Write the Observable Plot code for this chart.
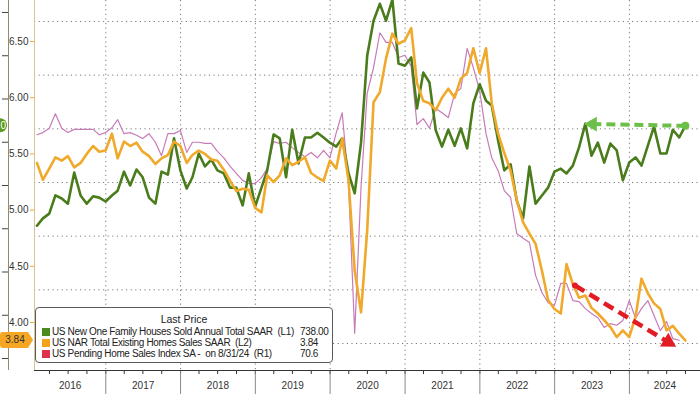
<!DOCTYPE html>
<html>
<head>
<meta charset="utf-8">
<script src="https://cdn.jsdelivr.net/npm/d3@7"></script>
<script src="https://cdn.jsdelivr.net/npm/@observablehq/plot@0.6"></script>
<style>
  body { margin: 0; background: #fff; }
  #chart { position: relative; width: 700px; height: 394px; overflow: hidden; font-family: "Liberation Sans", Arial, sans-serif; }
  #chart svg { position: absolute; left: 0; top: 0; }
  #legend { position: absolute; left: 35px; top: 307px; width: 298px; height: 56px; box-sizing: border-box;
            border: 1px solid #5a5a5a; border-radius: 4px; background: #fff; font-size: 10px; color: #222;
            letter-spacing: -0.35px; }
  #legend .title { position: absolute; top: 6px; left: 0; width: 100%; text-align: center; line-height: 11px; letter-spacing: 0; font-size: 10.5px; }
  #legend .row { position: absolute; left: 0; width: 100%; height: 11px; line-height: 11px; }
  #legend .sw { position: absolute; left: 6px; top: 2px; width: 8px; height: 8px; }
  #legend .name { position: absolute; left: 16px; white-space: pre; }
  #legend .val { position: absolute; left: 264px; white-space: pre; }
</style>
</head>
<body>
<div id="chart"><div id="legend"></div></div>
<script>
// ---------------- data ----------------
// New one-family houses sold, SAAR (thousands) — Jan 2016 .. Sep 2024 (L1)
const newHomeSales = [
  507, 524, 535, 577, 570, 558, 630, 577, 558, 575, 572, 563,
  577, 588, 632, 600, 637, 619, 572, 558, 632, 625, 709, 635,
  593, 619, 674, 644, 660, 635, 628, 595, 595, 554, 628, 551,
  595, 635, 718, 709, 619, 729, 651, 711, 711, 722, 711, 699,
  690, 709, 628, 582, 699, 900, 981, 1020, 981, 1030, 882, 877,
  896, 778, 861, 838, 727, 690, 729, 692, 732, 686, 790, 834,
  796, 785, 704, 635, 649, 565, 524, 644, 558, 577, 595, 632,
  639, 628, 646, 688, 743, 669, 699, 653, 697, 681, 612, 653,
  665, 646, 692, 736, 674, 674, 729, 711, 738
];
// NAR total existing home sales, SAAR (millions) — Jan 2016 .. Sep 2024 (L2)
const existingHomeSales = [
  5.42, 5.27, 5.37, 5.47, 5.44, 5.48, 5.38, 5.42, 5.50, 5.57, 5.52, 5.53,
  5.68, 5.46, 5.61, 5.57, 5.60, 5.52, 5.48, 5.41, 5.46, 5.49, 5.61, 5.57,
  5.42, 5.49, 5.53, 5.50, 5.45, 5.44, 5.36, 5.26, 5.17, 5.19, 5.18, 5.02,
  4.98, 5.31, 5.25, 5.31, 5.46, 5.40, 5.43, 5.47, 5.33, 5.29, 5.26, 5.44,
  5.37, 5.64, 5.26, 4.46, 4.09, 4.82, 5.96, 6.05, 6.35, 6.57, 6.48, 6.51,
  6.62, 6.13, 5.97, 5.95, 5.89, 6.00, 6.08, 6.00, 6.17, 6.22, 6.44, 6.22,
  6.44, 5.95, 5.68, 5.51, 5.35, 5.09, 4.89, 4.79, 4.70, 4.46, 4.20, 4.12,
  4.08, 4.52, 4.34, 4.22, 4.24, 4.13, 4.08, 4.02, 3.96, 3.87, 3.93, 3.87,
  4.05, 4.39, 4.26, 4.17, 4.12, 3.93, 3.97, 3.90, 3.84
];
// Pending home sales index SA — Jan 2016 .. Aug 2024 (R1)
const pendingIndex = [
  108.9, 109.3, 110.1, 112.8, 110.1, 109.3, 109.9, 109.9, 109.9, 109.9, 108.9, 109.3,
  110.2, 111.7, 109.1, 109.3, 108.8, 108.2, 109.1, 107.5, 105.0, 109.1, 109.1, 109.7,
  105.6, 107.5, 107.5, 107.3, 107.3, 105.8, 104.6, 103.0, 101.7, 100.4, 99.8, 99.8,
  100.9, 102.6, 107.6, 107.3, 107.5, 106.5, 105.6, 104.8, 105.6, 104.6, 106.0, 104.6,
  109.3, 113.0, 99.8, 71.9, 99.1, 116.6, 121.4, 127.9, 126.1, 126.1, 123.3, 123.7,
  121.6, 110.8, 111.9, 110.1, 113.8, 113.0, 112.1, 116.6, 117.5, 125.0, 121.4, 117.1,
  109.1, 104.6, 102.2, 98.5, 97.2, 90.5, 89.6, 88.8, 82.7, 79.5, 77.6, 77.1,
  81.2, 81.2, 78.0, 77.8, 76.5, 75.6, 74.8, 73.0, 73.7, 73.4, 74.3, 78.0,
  74.7, 76.5, 78.0, 75.2, 72.4, 74.1, 70.9, 70.6
];
const firstMonth = "2016-01-01";
const monthCount = 105;
const yearLabels = ["2016","2017","2018","2019","2020","2021","2022","2023","2024"];
const l1Ticks = [200, 300, 400, 500, 600, 700, 800, 900, 1000];
const l2Ticks = [4.00, 4.50, 5.00, 5.50, 6.00, 6.50];
const r1Ticks = [70, 80, 90, 100, 110, 120, 130];
const seriesNames = ["US New One Family Houses Sold Annual Total SAAR  (L1)",
                     "US NAR Total Existing Homes Sales SAAR  (L2)",
                     "US Pending Home Sales Index SA -  on 8/31/24  (R1)"];
const lastValues = ["738.00", "3.84", "70.6"];
const swatchColors = ["#4a8a1e", "#f5a21b", "#e0304f"];
const greenArrow = {x1: "2024-09-30", y1: 738, x2: "2023-07-05", y2: 742};
const redArrow = {x1: "2023-04-10", y1: 4.33, x2: "2024-07-08", y2: 3.826};

// ---------------- build ----------------
const start = new Date(Date.UTC(2016, 0, 19));
const end = new Date(Date.UTC(2024, 11, 13));
const m0 = new Date(firstMonth + "T00:00:00Z");
const months = d3.utcMonth.range(m0, d3.utcMonth.offset(m0, monthCount));
const dates = months.map(m => d3.utcDay.offset(d3.utcMonth.offset(m, 1), -1));
const green = newHomeSales.map((v, i) => ({date: dates[i], v}));
const yellow = existingHomeSales.map((v, i) => ({date: dates[i], v}));
const pink = pendingIndex.map((v, i) => ({date: dates[i], v}));
const yearStarts = yearLabels.slice(1).map(y => new Date(Date.UTC(+y, 0, 1)));
const quarters = d3.utcMonth.every(3).range(start, end);
const yearMids = yearLabels.map(y => {
  const a = Math.max(+start, Date.UTC(+y, 0, 1)), b = Math.min(+end, Date.UTC(+y + 1, 0, 1));
  return {label: y, mid: new Date((a + b) / 2)};
});
const D = s => new Date(s + "T00:00:00Z");

const base = {width: 700, height: 394, marginTop: 0, marginRight: 0, marginBottom: 24, marginLeft: 34,
  style: {background: "transparent", fontFamily: "Liberation Sans, Arial, sans-serif"}};
const xs = {type: "utc", domain: [start, end], axis: null, label: null};
const dotted = {stroke: "#7a7a7a", strokeOpacity: 1, strokeDasharray: "1.2,3.4"};

const pPlot = Plot.plot({...base, style: {...base.style, background: "#fff"},
  x: xs, y: {domain: [64.97, 133.91], axis: null, label: null},
  marks: [
    Plot.gridY(r1Ticks, dotted),
    Plot.gridX(yearStarts, dotted),
    Plot.axisX(quarters, {tickSize: 4, tickFormat: () => "", stroke: "#333", label: null}),
    Plot.axisX(yearStarts, {tickSize: 24, tickFormat: () => "", stroke: "#8a8a8a", label: null}),
    Plot.ruleY([64.97], {stroke: "#333"}),
    Plot.text(yearMids, {x: "mid", text: "label", frameAnchor: "bottom", dy: 18, fontSize: 10, fill: "#333"}),
    Plot.lineY(pink, {x: "date", y: "v", stroke: "#c77bb8", strokeWidth: 1.2})
  ]});

const gPlot = Plot.plot({...base, x: xs, y: {domain: [172.3, 1027.7], axis: null, label: null},
  marks: [
    Plot.ruleX([start], {dx: -26, stroke: "#8c8c74"}),
    Plot.axisY(l1Ticks, {tickSize: 6, dx: -26, stroke: "#444", tickFormat: () => "", label: null}),
    Plot.lineY(green, {x: "date", y: "v", stroke: "#4a7c1c", strokeWidth: 2.6}),
    Plot.link([greenArrow], {x1: d => D(d.x1), y1: "y1", x2: d => D(d.x2), y2: "y2",
      stroke: "#6cc04a", strokeWidth: 4, strokeDasharray: "9,5"}),
    Plot.dot([greenArrow], {x: d => D(d.x1), y: "y1", r: 4, fill: "#6cc04a"}),
    Plot.dot([greenArrow], {x: d => D(d.x2), y: "y2", r: 5.5, symbol: "triangle", rotate: -90, fill: "#6cc04a"})
  ]});

const yPlot = Plot.plot({...base, x: xs, y: {domain: [3.573, 6.865], axis: null, label: null},
  marks: [
    Plot.ruleX([start], {stroke: "#d8c48f"}),
    Plot.axisY(l2Ticks, {tickSize: 4, tickPadding: 2, tickFormat: d3.format(".2f"), stroke: "#f0a92a", fill: "#333", fontSize: 10, label: null}),
    Plot.lineY(yellow, {x: "date", y: "v", stroke: "#f0a92a", strokeWidth: 2.6}),
    Plot.link([redArrow], {x1: d => D(d.x1), y1: "y1", x2: d => D(d.x2), y2: "y2",
      stroke: "#e31b23", strokeWidth: 4.5, strokeDasharray: "11,6"}),
    Plot.dot([redArrow], {x: d => D(d.x1), y: "y1", r: 3, fill: "#e31b23"}),
    Plot.dot([redArrow], {x: d => D(d.x2), y: "y2", r: 6, symbol: "triangle", rotate: 121, fill: "#e31b23"})
  ]});

const chart = document.getElementById("chart");
const legend = document.getElementById("legend");
chart.insertBefore(pPlot, legend);
chart.insertBefore(gPlot, legend);
chart.insertBefore(yPlot, legend);

// last-value tags placed through each plot's own y scale (L1 tag is cut at the left edge, as in the source)
const gy = gPlot.scale("y").apply(newHomeSales[newHomeSales.length - 1]);
const gTag = d3.select(gPlot).append("g");
gTag.append("rect").attr("x", -30).attr("y", gy - 7).attr("width", 37).attr("height", 14).attr("rx", 7).attr("fill", "#5c9b22");
gTag.append("text").attr("x", 6).attr("y", gy).attr("dy", "0.35em").attr("text-anchor", "end")
  .attr("fill", "#fff").attr("font-size", 10).text(lastValues[0].slice(-1));

const yy = yPlot.scale("y").apply(existingHomeSales[existingHomeSales.length - 1]);
const yTag = d3.select(yPlot).append("g");
yTag.append("path").attr("d", `M3,${yy - 8}H28L33,${yy}L28,${yy + 8}H3Q0,${yy + 8} 0,${yy + 5}V${yy - 5}Q0,${yy - 8} 3,${yy - 8}Z`).attr("fill", "#f5a623");
yTag.append("text").attr("x", 15).attr("y", yy).attr("dy", "0.35em").attr("text-anchor", "middle")
  .attr("fill", "#333").attr("font-size", 10).text(lastValues[1]);

// legend
const t = document.createElement("div"); t.className = "title"; t.textContent = "Last Price"; legend.appendChild(t);
seriesNames.forEach((n, i) => {
  const r = document.createElement("div"); r.className = "row"; r.style.top = (18 + 11 * i) + "px";
  r.innerHTML = `<span class="sw" style="background:${swatchColors[i]}"></span><span class="name"></span><span class="val"></span>`;
  r.querySelector(".name").textContent = n;
  r.querySelector(".val").textContent = lastValues[i];
  legend.appendChild(r);
});
</script>
</body>
</html>
